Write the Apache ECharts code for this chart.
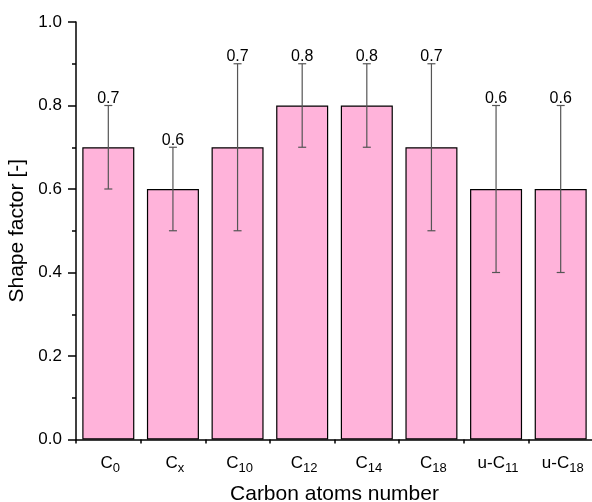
<!DOCTYPE html>
<html><head><meta charset="utf-8">
<script src="https://cdn.jsdelivr.net/npm/echarts@6/dist/echarts.min.js"></script>
<style>html,body{margin:0;padding:0;background:#fff}#c{width:592px;height:502px}</style>
</head><body><div id="c"></div>
<script>
var catBase = ['C','C','C','C','C','C','u-C','u-C'];
var catSub = ['0','x','10','12','14','18','11','18'];
var values = [0.7,0.6,0.7,0.8,0.8,0.7,0.6,0.6];
var errLow = [0.6,0.5,0.5,0.7,0.7,0.5,0.4,0.4];
var errHigh = [0.8,0.7,0.9,0.9,0.9,0.9,0.8,0.8];
var yTicks = ['0.0','0.2','0.4','0.6','0.8','1.0'];

var cats = catBase.map(function(b,i){return '{b|'+b+'}{s|'+catSub[i]+'}';});
var FONT = '"Liberation Sans", Arial, sans-serif';
var chart = echarts.init(document.getElementById('c'));
chart.setOption({
  animation:false,
  grid:{left:76, top:22, width:517, height:417.5, outerBoundsMode:'none', containLabel:false},
  xAxis:[{
    type:'category', data:cats,
    axisLine:{lineStyle:{color:'#000',width:1.5}},
    axisTick:{alignWithLabel:true, length:8, lineStyle:{color:'#000',width:1.5}},
    axisLabel:{interval:0, margin:12, hideOverlap:false, padding:[0,0,0,4], rich:{
      b:{fontFamily:FONT,fontSize:17,color:'#000'},
      s:{fontFamily:FONT,fontSize:13,color:'#000',verticalAlign:'bottom',padding:[10,0,0,0]}
    }},
    name:'Carbon atoms number', nameLocation:'middle', nameGap:44,
    nameTextStyle:{fontFamily:FONT,fontSize:21,color:'#000'}
  },{
    type:'value', min:0, max:8, interval:1, position:'bottom',
    axisLine:{show:false}, splitLine:{show:false}, axisLabel:{show:false},
    axisTick:{show:true, length:4, lineStyle:{color:'#000',width:1.5}}
  }],
  yAxis:{
    type:'value', min:0, max:1, interval:0.2,
    axisLine:{show:true, lineStyle:{color:'#000',width:1.5}},
    axisTick:{show:true, length:8, lineStyle:{color:'#000',width:1.5}},
    minorTick:{show:true, splitNumber:2, length:4, lineStyle:{color:'#000',width:1.5}},
    splitLine:{show:false},
    axisLabel:{fontFamily:FONT,fontSize:17,color:'#000',margin:14,
      formatter:function(v){return yTicks[Math.round(v/0.2)];}},
    name:'Shape factor [-]', nameLocation:'middle', nameGap:46,
    nameTextStyle:{fontFamily:FONT,fontSize:21,color:'#000'}
  },
  series:[{
    type:'bar', data:values, barWidth:'80.5%',
    itemStyle:{color:'#FFB3DA', borderColor:'#000', borderWidth:1.2}
  },{
    type:'custom',
    data:values.map(function(v,i){return [i,errLow[i],errHigh[i],v];}),
    z:10,
    renderItem:function(params, api){
      var i = api.value(0);
      var lo = api.coord([i, api.value(1)]);
      var hi = api.coord([i, api.value(2)]);
      var w = 4;
      var st = {stroke:'#555', lineWidth:1.2};
      return {type:'group', children:[
        {type:'line', shape:{x1:hi[0],y1:hi[1],x2:lo[0],y2:lo[1]}, style:st},
        {type:'line', shape:{x1:hi[0]-w,y1:hi[1],x2:hi[0]+w,y2:hi[1]}, style:st},
        {type:'line', shape:{x1:lo[0]-w,y1:lo[1],x2:lo[0]+w,y2:lo[1]}, style:st},
        {type:'text', x:hi[0], y:hi[1]+1, style:{text:api.value(3).toFixed(1), align:'center', verticalAlign:'bottom',
          font:'16px '+FONT, fill:'#000'}}
      ]};
    }
  }]
});
</script></body></html>
